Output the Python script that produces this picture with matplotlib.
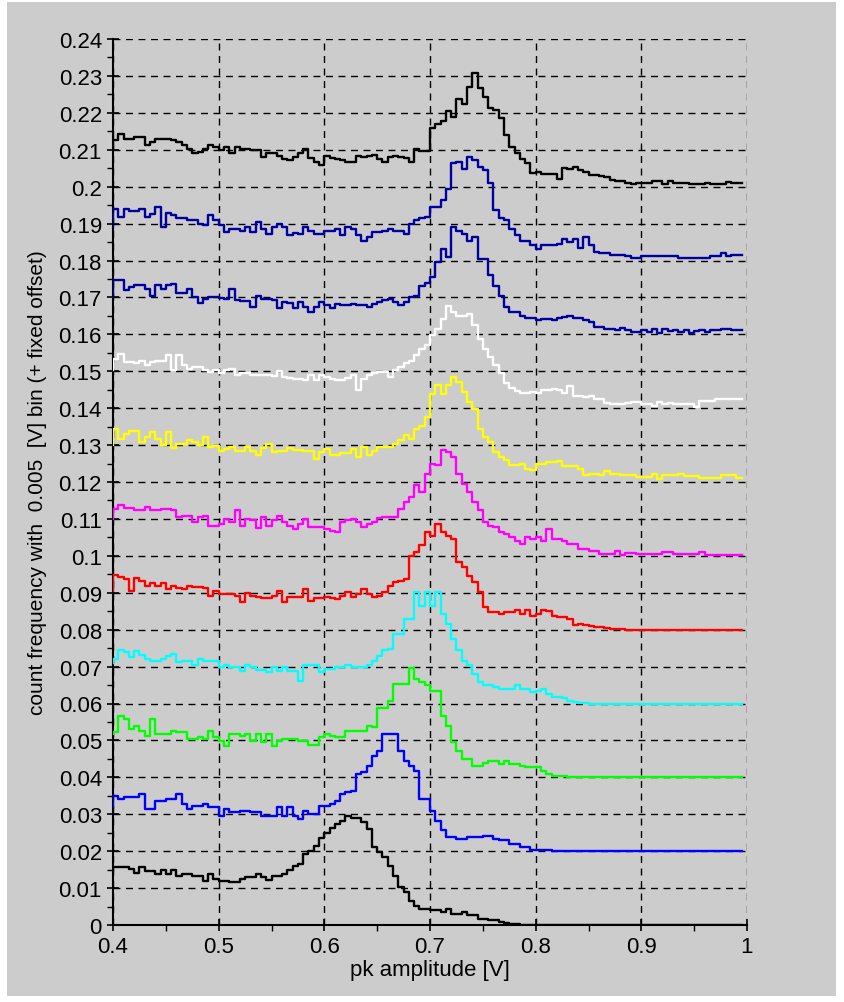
import numpy as np
import matplotlib
matplotlib.use("Agg")
import matplotlib.pyplot as plt
from matplotlib.ticker import MultipleLocator, FuncFormatter
from matplotlib.patches import Rectangle

#########################################
# Data
#########################################

# histogram binning of the peak amplitude [V]
BIN_WIDTH = 0.005
X_START = 0.4
N_POINTS = 120

# count frequency per bin, in units of 1e-3 (first entry = start of the step line)
black_low = [15.0, 15.6, 15.6, 15.6, 15.1, 14.2, 15.8, 14.7, 14.7, 13.8,
             15.0, 13.8, 15.0, 13.4, 13.8, 13.8, 13.4, 13.4, 12.0, 13.8,
             12.5, 12.0, 12.0, 11.6, 11.6, 12.5, 12.9, 12.9, 13.8, 12.9,
             12.3, 13.4, 13.4, 13.8, 15.0, 16.0, 16.5, 19.2, 20.1, 21.4,
             23.7, 25.0, 26.2, 27.3, 28.3, 29.6, 28.9, 29.1, 27.8, 26.0,
             21.1, 19.7, 18.4, 16.1, 13.4, 10.3, 8.9, 6.5, 5.1, 4.4,
             4.4, 4.0, 4.0, 3.5, 4.2, 3.1, 3.1, 3.5, 2.6, 2.6,
             1.7, 1.7, 1.3, 1.3, 0.8, 0.6, 0.3, 0.2, 0.1, 0.1] + [0.0] * 40

blue_low = [11.9, 15.0, 14.1, 14.6, 14.6, 14.6, 15.5, 11.4, 11.4, 13.7,
            13.7, 14.1, 14.1, 15.5, 12.8, 11.4, 12.3, 12.3, 12.8, 11.9,
            11.9, 9.6, 11.4, 10.5, 10.5, 11.0, 11.0, 10.5, 10.5, 9.6,
            9.6, 9.6, 11.9, 9.6, 11.9, 9.6, 8.7, 11.0, 10.1, 10.1,
            12.3, 12.3, 12.8, 13.7, 15.5, 16.0, 16.4, 20.9, 21.4, 23.2,
            25.9, 27.2, 31.7, 31.7, 31.7, 27.2, 24.5, 23.2, 21.8, 14.1,
            14.1, 11.0, 8.3, 5.6, 3.8, 3.8, 3.3, 3.3, 3.8, 3.8,
            3.8, 4.2, 4.2, 3.3, 2.9, 2.9, 2.0, 2.0, 1.1, 1.1,
            0.2, 0.3, 0.2, 0.2] + [0.0] * 36

green = [11.7, 12.2, 16.7, 15.8, 13.1, 14.0, 12.6, 11.3, 15.8, 11.7,
         11.7, 11.7, 12.6, 12.2, 12.2, 10.4, 10.4, 10.9, 10.4, 12.6,
         10.9, 9.9, 8.6, 11.7, 11.7, 11.3, 11.7, 9.9, 11.7, 9.5,
         11.7, 8.6, 9.9, 10.4, 10.4, 10.4, 9.9, 9.9, 8.8, 8.8,
         10.8, 11.7, 11.3, 11.0, 10.9, 12.6, 12.6, 12.6, 12.6, 14.0,
         13.5, 18.9, 18.9, 20.8, 25.3, 25.3, 25.3, 29.6, 26.7, 25.7,
         24.9, 23.5, 23.5, 16.7, 14.0, 9.5, 7.2, 5.0, 5.0, 3.2,
         3.2, 3.9, 4.3, 4.3, 3.7, 4.5, 3.7, 3.7, 3.2, 2.7,
         2.7, 2.7, 1.8, 0.9, 0.4, 0.4, 0.4, 0.2] + [0.0] * 32

cyan = [11.0, 12.0, 14.4, 13.9, 12.6, 14.1, 13.2, 12.1, 11.6, 11.6,
        12.1, 13.0, 13.5, 11.2, 11.6, 11.6, 10.3, 12.1, 11.6, 11.6,
        11.6, 9.8, 10.4, 9.8, 9.8, 8.9, 10.3, 9.8, 9.2, 9.2,
        8.5, 9.8, 8.7, 9.8, 8.9, 8.9, 6.2, 10.3, 10.3, 10.3,
        8.5, 9.4, 9.4, 10.0, 10.0, 10.5, 10.0, 10.0, 10.0, 10.5,
        11.6, 13.0, 14.4, 14.8, 18.9, 18.9, 22.9, 22.9, 30.2, 26.5,
        30.2, 26.5, 30.2, 24.3, 21.6, 17.6, 14.4, 11.6, 10.3, 8.1,
        5.8, 4.9, 4.9, 4.5, 4.0, 4.0, 3.8, 4.9, 4.0, 3.8,
        3.1, 3.5, 4.0, 2.7, 1.8, 1.8, 1.4, 0.6, 0.4, 0.2,
        0.1] + [0.0] * 29

red = [10.6, 14.9, 14.2, 13.7, 10.6, 13.9, 13.3, 11.9, 12.6, 11.8,
       12.6, 11.1, 11.9, 11.2, 11.1, 11.8, 11.5, 11.5, 11.2, 9.2,
       10.6, 9.7, 9.7, 9.7, 9.2, 7.6, 9.9, 9.2, 8.8, 8.5,
       8.5, 9.2, 10.6, 7.4, 8.8, 8.8, 8.8, 11.1, 7.9, 8.5,
       8.5, 8.8, 8.5, 8.3, 9.2, 10.1, 8.8, 9.7, 11.1, 9.7,
       8.8, 9.2, 10.1, 11.9, 12.8, 13.3, 13.7, 20.0, 21.0, 22.8,
       26.4, 25.5, 28.7, 26.4, 25.5, 24.6, 18.3, 16.9, 14.6, 12.8,
       10.1, 6.1, 4.7, 4.7, 4.3, 4.7, 4.7, 5.2, 4.3, 5.2,
       3.8, 4.3, 5.2, 5.0, 3.8, 3.3, 3.3, 3.0, 1.3, 1.6,
       1.3, 1.1, 0.8, 0.6, 0.4, 0.2, 0.1, 0.1] + [0.0] * 22

magenta = [10.0, 12.7, 13.8, 12.9, 12.9, 12.5, 12.5, 13.2, 12.3, 12.3,
           12.7, 12.7, 12.3, 10.5, 10.9, 10.9, 9.3, 10.5, 10.8, 8.2,
           8.2, 8.7, 10.0, 9.3, 12.3, 8.2, 10.0, 9.6, 7.5, 10.5,
           8.2, 9.6, 10.9, 9.1, 8.2, 7.3, 8.7, 10.0, 7.8, 7.8,
           7.8, 7.3, 6.6, 6.4, 9.1, 9.6, 10.0, 9.1, 7.8, 8.7,
           9.1, 10.2, 10.5, 10.5, 10.5, 12.7, 14.5, 15.9, 19.1, 17.2,
           22.2, 24.9, 24.5, 28.6, 28.1, 26.8, 22.2, 19.5, 17.2, 14.5,
           12.3, 9.1, 8.2, 7.8, 6.4, 5.9, 5.0, 4.1, 3.2, 5.0,
           4.6, 5.0, 4.1, 7.3, 4.6, 4.6, 4.1, 3.2, 3.2, 1.8,
           1.8, 1.4, 1.4, 0.5, 0.5, 0.5, 1.4, 0.2, 0.7, 0.7,
           0.5, 0.5, 0.5, 0.5, 0.5, 1.1, 1.1, 0.5, 0.5, 0.5,
           0.5, 0.5, 1.1, 0.2, 0.2, 0.2, 0.2, 0.2, 0.2, 0.2]

yellow = [9.9, 14.4, 11.7, 13.0, 13.9, 13.9, 10.8, 12.2, 13.5, 11.7,
          9.9, 13.5, 9.2, 10.4, 10.4, 11.3, 10.8, 9.9, 12.2, 9.4,
          9.7, 8.5, 9.0, 9.4, 8.5, 8.5, 9.4, 8.3, 7.4, 9.2,
          10.4, 8.1, 8.3, 8.3, 9.2, 8.8, 8.8, 8.3, 8.3, 6.3,
          8.1, 9.0, 7.4, 7.4, 7.9, 7.9, 9.0, 6.8, 9.4, 7.2,
          8.5, 9.4, 9.4, 9.4, 10.4, 11.3, 12.6, 11.7, 14.4, 15.3,
          17.6, 23.9, 26.2, 23.9, 26.2, 28.4, 27.1, 24.3, 21.6, 19.8,
          14.4, 12.2, 10.8, 8.1, 6.8, 5.9, 4.5, 4.5, 5.0, 3.6,
          3.2, 4.9, 4.9, 5.3, 5.3, 5.8, 4.4, 4.4, 4.4, 3.6,
          1.8, 2.2, 2.2, 1.8, 3.1, 2.2, 2.2, 1.8, 1.8, 1.8,
          1.3, 1.3, 1.3, 2.2, 0.9, 1.8, 1.8, 1.8, 2.2, 1.5,
          1.5, 1.5, 1.1, 1.1, 1.1, 1.1, 1.8, 1.8, 2.0, 1.1]

white = [10.3, 13.4, 14.8, 12.5, 12.5, 12.1, 12.9, 11.6, 12.5, 12.9,
         12.9, 14.3, 10.3, 14.3, 11.6, 10.7, 11.1, 11.1, 10.3, 9.8,
         10.3, 9.4, 10.3, 10.7, 8.9, 9.4, 9.4, 9.1, 9.1, 8.9,
         8.9, 8.6, 10.0, 8.5, 8.2, 8.0, 8.0, 7.5, 8.9, 7.5,
         8.9, 8.5, 8.0, 7.5, 7.5, 8.2, 8.9, 5.0, 8.0, 8.9,
         9.4, 9.8, 9.8, 8.5, 10.3, 11.1, 12.1, 12.9, 14.3, 16.1,
         17.0, 19.7, 21.5, 24.2, 27.8, 26.0, 25.1, 25.1, 25.5, 22.4,
         18.8, 16.1, 13.8, 11.6, 9.4, 6.7, 5.4, 4.7, 4.1, 4.1,
         4.5, 4.1, 4.9, 4.9, 5.2, 4.9, 4.1, 5.9, 3.3, 3.3,
         2.9, 3.3, 2.4, 2.4, 1.3, 1.1, 1.1, 1.1, 1.3, 1.6,
         1.6, 1.0, 1.0, 0.7, 1.6, 1.1, 1.3, 1.1, 1.1, 1.1,
         1.1, 0.4, 1.9, 1.9, 1.9, 2.4, 2.4, 2.4, 2.4, 2.4]

navy_low = [10.1, 14.6, 14.6, 11.9, 12.8, 13.4, 13.4, 12.4, 10.5, 13.4,
            12.4, 13.3, 13.7, 11.3, 11.3, 12.4, 10.1, 8.6, 9.7, 10.1,
            10.1, 9.9, 9.7, 12.4, 9.3, 9.0, 9.0, 7.4, 10.5, 9.5,
            9.5, 9.3, 7.0, 8.8, 8.4, 7.0, 8.8, 7.4, 6.0, 7.4,
            8.8, 8.0, 7.2, 8.3, 7.9, 7.9, 8.3, 7.9, 7.9, 7.4,
            8.3, 8.8, 9.2, 9.7, 8.8, 7.9, 8.8, 10.1, 10.5, 13.2,
            14.0, 15.5, 19.6, 23.2, 20.9, 29.0, 28.1, 27.2, 25.4, 26.3,
            20.4, 20.4, 16.0, 13.2, 10.5, 7.4, 6.1, 6.1, 5.1, 4.3,
            4.3, 3.8, 4.2, 4.2, 3.8, 4.4, 4.6, 5.1, 4.4, 4.4,
            3.8, 3.3, 2.0, 2.0, 1.5, 1.5, 1.1, 1.7, 1.1, 0.5,
            0.7, 1.1, 0.6, 1.4, 0.4, 1.4, 0.8, 1.1, 0.6, 1.1,
            0.4, 0.8, 1.1, 0.7, 1.1, 1.1, 1.4, 1.4, 1.1, 1.1]

navy_high = [9.1, 14.0, 11.8, 14.0, 13.3, 13.3, 13.9, 11.8, 12.7, 14.5,
             9.1, 12.9, 12.3, 11.4, 11.4, 11.0, 11.0, 10.0, 9.6, 12.3,
             11.0, 9.6, 7.7, 8.6, 8.6, 8.1, 9.1, 7.7, 10.5, 8.6,
             7.2, 9.1, 10.0, 9.1, 6.8, 7.5, 7.2, 9.1, 8.1, 7.2,
             7.2, 7.9, 7.9, 8.6, 6.8, 9.1, 8.6, 6.8, 5.4, 6.3,
             7.7, 7.7, 8.1, 8.6, 8.1, 8.1, 7.2, 10.0, 11.0, 11.4,
             11.8, 14.5, 14.5, 16.3, 19.5, 26.3, 26.7, 24.9, 28.1, 27.2,
             25.4, 24.5, 21.0, 13.6, 11.4, 11.0, 8.6, 6.8, 5.4, 5.4,
             4.1, 3.2, 4.1, 4.1, 4.1, 4.6, 5.9, 5.0, 5.9, 3.4,
             6.3, 4.1, 2.3, 1.9, 1.9, 1.4, 1.4, 1.4, 1.3, 0.8,
             0.8, 1.1, 1.1, 1.1, 1.1, 1.1, 1.1, 1.3, 0.6, 0.6,
             0.8, 0.8, 0.6, 0.6, 1.1, 1.1, 1.9, 1.1, 1.4, 1.4]

black_high = [10.3, 12.6, 14.4, 13.0, 13.0, 13.5, 13.5, 11.2, 12.1, 12.9,
              12.9, 12.9, 12.6, 12.1, 11.4, 10.3, 9.0, 9.5, 10.3, 11.2,
              10.8, 9.9, 10.8, 9.0, 10.8, 10.3, 10.3, 9.9, 9.9, 8.0,
              9.0, 9.0, 8.4, 7.6, 7.1, 8.0, 9.0, 10.3, 7.8, 6.7,
              6.0, 8.3, 7.8, 7.4, 7.1, 6.8, 6.8, 8.3, 8.0, 8.4,
              8.6, 7.6, 6.7, 8.0, 8.4, 8.0, 7.8, 6.8, 10.1, 9.6,
              9.6, 15.8, 16.9, 17.8, 20.5, 19.0, 23.8, 22.4, 27.1, 30.7,
              26.7, 24.4, 21.3, 20.8, 18.5, 14.0, 10.8, 9.0, 7.5, 6.3,
              3.6, 4.0, 3.5, 3.5, 3.5, 2.2, 5.0, 4.8, 5.2, 4.4,
              4.0, 3.2, 3.2, 2.9, 2.6, 1.8, 1.4, 1.6, 1.1, 0.8,
              1.1, 1.1, 1.1, 1.4, 1.6, 0.6, 1.6, 1.1, 1.1, 1.1,
              0.8, 0.8, 0.6, 1.1, 0.7, 0.7, 0.7, 1.2, 1.0, 1.1]

traces = [black_low, blue_low, green, cyan, red, magenta,
          yellow, white, navy_low, navy_high, black_high]
offsets = [0.0, 0.02, 0.04, 0.06, 0.08, 0.10, 0.12, 0.14, 0.16, 0.18, 0.20]
colors = ['#000000', '#0000ff', '#00ff00', '#00ffff', '#ff0000', '#ff00ff',
          '#ffff00', '#ffffff', '#0000a0', '#0000a0', '#000000']

BG = '#cccccc'

#########################################
# Plot
#########################################

fig = plt.figure(figsize=(8.44, 10.03), dpi=100, facecolor='white')
# grey panel behind everything, thin white frame round it
fig.patches.append(Rectangle((7 / 844, 6 / 1003), 829 / 844, 994 / 1003,
                             transform=fig.transFigure, facecolor=BG,
                             edgecolor='none', zorder=-10))

ax = fig.add_axes([113 / 844, 77 / 1003, 634 / 844, 886 / 1003], facecolor=BG)
ax.set_zorder(1)

x = X_START + BIN_WIDTH * np.arange(N_POINTS)
for vals, off, col in zip(traces, offsets, colors):
    y = np.asarray(vals) * 1e-3 + off
    ax.plot(x, y, drawstyle='steps-pre', color=col, linewidth=1.7, zorder=3)

ax.set_xlim(0.4, 1.0)
ax.set_ylim(0, 0.24)

ax.xaxis.set_major_locator(MultipleLocator(0.1))
ax.xaxis.set_minor_locator(MultipleLocator(0.05))
ax.yaxis.set_major_locator(MultipleLocator(0.01))
ax.yaxis.set_minor_locator(MultipleLocator(0.005))
fmt = FuncFormatter(lambda v, pos: '%g' % round(v, 4))
ax.xaxis.set_major_formatter(fmt)
ax.yaxis.set_major_formatter(fmt)

ax.grid(True, which='major', color='black', linestyle=(0, (5, 4)),
        linewidth=1.0, zorder=1)
ax.set_axisbelow(True)

for side in ['top', 'right']:
    ax.spines[side].set_visible(False)
for side in ['left', 'bottom']:
    ax.spines[side].set_linewidth(1.5)

ax.tick_params(which='major', direction='inout', length=8, width=1.2,
               labelsize=16, pad=4)
ax.tick_params(which='minor', direction='out', length=4, width=1.0)
for lab in ax.get_xticklabels() + ax.get_yticklabels():
    lab.set_fontfamily(['Liberation Sans', 'DejaVu Sans'])

ax.set_xlabel('pk amplitude [V]', fontsize=16,
              fontfamily=['Liberation Sans', 'DejaVu Sans'])
ax.xaxis.set_label_coords(0.5, -0.038)
ax.set_ylabel('count frequency with  0.005  [V] bin (+ fixed offset)',
              fontsize=15,
              fontfamily=['Liberation Sans Narrow', 'Liberation Sans', 'DejaVu Sans'])
ax.yaxis.set_label_coords(-0.104, 0.5)

fig.savefig('out.png', dpi=100, facecolor=fig.get_facecolor())
